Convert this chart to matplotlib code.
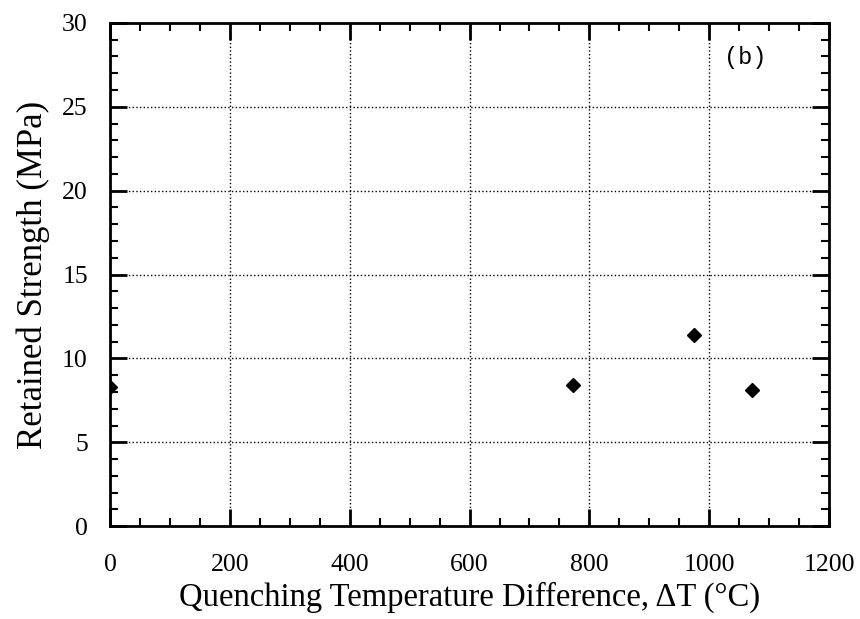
import matplotlib
matplotlib.use('Agg')
import matplotlib.pyplot as plt
from matplotlib.ticker import MultipleLocator

# data
delta_t = [0, 772, 975, 1072]
strength = [8.3, 8.4, 11.4, 8.1]

x_ticks = [0, 200, 400, 600, 800, 1000, 1200]
y_ticks = [0, 5, 10, 15, 20, 25, 30]

plt.rcParams['font.family'] = ['Liberation Serif', 'DejaVu Serif']

fig = plt.figure(figsize=(8.6, 6.19), dpi=100)
ax = fig.add_axes([0.128, 0.150, 0.836, 0.813])

ax.plot(delta_t, strength, linestyle='none', marker='D', markersize=7,
        color='black', zorder=3)

ax.set_xlim(0, 1200)
ax.set_ylim(0, 30)
ax.set_xticks(x_ticks)
ax.set_yticks(y_ticks)
ax.xaxis.set_minor_locator(MultipleLocator(50))
ax.yaxis.set_minor_locator(MultipleLocator(1))
ax.tick_params(which='both', direction='in', top=True, right=True,
               labelsize=18.5, color='black')
ax.tick_params(which='major', length=12, width=2)
ax.tick_params(which='minor', length=6, width=1.5)
ax.tick_params(axis='x', which='major', pad=20)
ax.tick_params(axis='y', which='major', pad=16)
for s in ax.spines.values():
    s.set_linewidth(2)

ax.grid(True, which='major', linestyle=':', color='black', linewidth=1)

ax.set_xlabel('Quenching Temperature Difference, \u0394T (\u00b0C)', fontsize=23.5, labelpad=4)
ax.set_ylabel('Retained Strength (MPa)', fontsize=25, labelpad=9)

ax.text(0.883, 0.932, '(b)', transform=ax.transAxes, fontsize=17,
        family='Liberation Mono', ha='center', va='center')

plt.savefig('out.png', dpi=100)
